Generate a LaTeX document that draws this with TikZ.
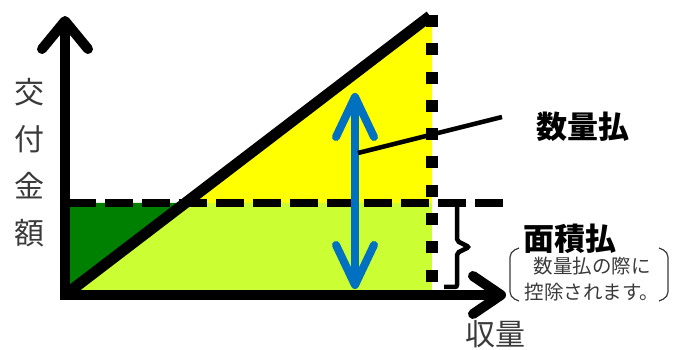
\documentclass[tikz,border=0pt]{standalone}
\usepackage{fontspec}
\setmainfont{Noto Sans CJK JP}
\usetikzlibrary{arrows.meta}
\definecolor{cyellow}{HTML}{FFFF00}
\definecolor{clime}{HTML}{CCFF33}
\definecolor{cdgreen}{HTML}{008000}
\definecolor{cblue}{HTML}{0070C0}
\definecolor{ctext}{HTML}{3A3A3A}
\tikzset{
  axis/.style={line width=10pt, line join=miter},
  axislabel/.style={font=\fontsize{30}{47}\selectfont, text=ctext, align=center, inner sep=0pt},
  head/.style={font=\bfseries\fontsize{31}{36}\selectfont, inner sep=0pt},
  note/.style={font=\fontsize{19.5}{26}\selectfont, text=ctext, align=center, inner sep=0pt},
  paren/.style={draw=ctext, line width=1.2pt, rounded corners=5pt},
}
\begin{document}
\begin{tikzpicture}[x=1pt, y=-1pt]
  \useasboundingbox (0,0) rectangle (673,350);
  % corner points
  \coordinate (o) at (65,295);
  \coordinate (top) at (432,15);
  \coordinate (mid) at (185,203);
  \coordinate (corner) at (432,203);
  % areas
  \fill[clime] (65,203) rectangle (432,292);
  \fill[cdgreen] (65,203) -- (mid) -- (o) -- cycle;
  \fill[cyellow] (mid) -- (top) -- (corner) -- cycle;
  % guide lines
  \draw[line width=8pt, dash pattern=on 28pt off 9pt] (68,203) -- (510,203);
  \draw[line width=12pt, dash pattern=on 12pt off 16.3pt] (top) -- (432,290);
  \draw[line width=11pt] (o) -- (430,16);
  % axes
  \draw[axis, {Straight Barb[length=28pt, width=46pt, round]}-{Straight Barb[length=28pt, width=38pt, round]}]
    (65,16) -- (o) -- (506,295);
  % quantity payment
  \draw[cblue, line width=8pt, {Straight Barb[length=40pt, width=38pt, round]}-{Straight Barb[length=40pt, width=38pt, round]}]
    (355,93) -- (355,289);
  \coordinate (lead) at (358,153);
  \coordinate (leadend) at (502,117);
  \draw[line width=4.5pt] (lead) -- (leadend);
  \node[head] (qty) at (583,127) {数量払};
  % area payment
  \draw[line width=4.5pt, rounded corners=2pt] (444,203) -| (457,241) -- (469,247) -- (457,253) |- (444,287);
  \node[head] (area) at (570,239) {面積払};
  \node[note] (note) at (592,279) {数量払の際に\\控除されます。};
  \draw[paren] (519,248) -- (510,252) -- (510,297) -- (519,301);
  \draw[paren] (659,248) -- (668,252) -- (668,297) -- (659,301);
  % axis labels
  \node[axislabel] (xlabel) at (495,334) {収量};
  \node[axislabel] (ylabel) at (30,163) {交\\付\\金\\額};
\end{tikzpicture}
\end{document}
